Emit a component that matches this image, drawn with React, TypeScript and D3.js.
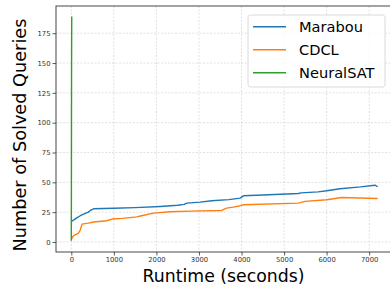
import { useEffect, useRef } from "react";
import * as d3 from "d3";

// runtime (s) and cumulative solved queries
const marabouTimes = [0, 60, 120, 211, 300, 400, 446, 523, 1000, 1500, 2090, 2500, 2650, 2715, 3028, 3300, 3700, 3967, 4045, 4500, 5336, 5400, 5800, 6003, 6315, 6800, 7136, 7200];
const marabouSolved = [17.2, 18.5, 20, 22, 23.5, 25, 26.4, 27.8, 28.3, 28.8, 29.8, 30.8, 31.5, 32.6, 33.4, 34.5, 35.5, 36.8, 38.7, 39.4, 40.6, 41.2, 42, 42.9, 44.6, 46.2, 47.6, 46.3];

const cdclTimes = [0, 55, 171, 210, 251, 400, 523, 837, 955, 1200, 1542, 1650, 1932, 2324, 2800, 3530, 3650, 3800, 3950, 4050, 5336, 5493, 6003, 6355, 7200];
const cdclSolved = [2.5, 5.3, 7.5, 10, 15, 15.8, 16.7, 17.8, 19.2, 19.8, 21, 22, 24.2, 25.3, 25.9, 26.4, 28.4, 29.2, 30.2, 31.2, 32.6, 34, 35.4, 37.3, 36.5];

const neuralsatTimes = [0, 2, 4, 6, 10];
const neuralsatSolved = [1, 40, 100, 150, 189];

const seriesNames = ["Marabou", "CDCL", "NeuralSAT"];
const seriesColors = ["#1f77b4", "#ff7f0e", "#2ca02c"];

const xTicks = [0, 1000, 2000, 3000, 4000, 5000, 6000, 7000];
const yTicks = [0, 25, 50, 75, 100, 125, 150, 175];

const width = 390;
const height = 289;

function App() {
  const ref = useRef<SVGSVGElement>(null);

  useEffect(() => {
    const el = d3.select(ref.current);
    el.selectAll("*").remove();

    const plot = { left: 56, top: 6, right: 393, bottom: 252 };
    const font = "DejaVu Sans, sans-serif";

    const x = d3.scaleLinear().domain([-360, 7560]).range([plot.left, plot.right]);
    const y = d3.scaleLinear().domain([-8.4, 197.8]).range([plot.bottom, plot.top]);

    // grid
    const grid = el.append("g");
    for (const t of xTicks) {
      grid.append("line")
        .attr("x1", x(t)).attr("x2", x(t))
        .attr("y1", plot.top).attr("y2", plot.bottom)
        .attr("stroke", "#b0b0b0").attr("stroke-opacity", 0.55)
        .attr("stroke-width", 0.7).attr("stroke-dasharray", "2,1.5");
    }
    for (const v of yTicks) {
      grid.append("line")
        .attr("x1", plot.left).attr("x2", plot.right)
        .attr("y1", y(v)).attr("y2", y(v))
        .attr("stroke", "#b0b0b0").attr("stroke-opacity", 0.55)
        .attr("stroke-width", 0.7).attr("stroke-dasharray", "2,1.5");
    }

    // data lines
    const series = [
      { times: marabouTimes, solved: marabouSolved },
      { times: cdclTimes, solved: cdclSolved },
      { times: neuralsatTimes, solved: neuralsatSolved },
    ];
    const line = d3.line<[number, number]>()
      .x((d) => x(d[0]))
      .y((d) => y(d[1]));
    series.forEach((s, i) => {
      const pts = s.times.map((t, k) => [t, s.solved[k]] as [number, number]);
      el.append("path")
        .attr("d", line(pts))
        .attr("fill", "none")
        .attr("stroke", seriesColors[i])
        .attr("stroke-width", 1.4)
        .attr("stroke-linejoin", "round");
    });

    // spines
    el.append("rect")
      .attr("x", plot.left).attr("y", plot.top)
      .attr("width", plot.right - plot.left).attr("height", plot.bottom - plot.top)
      .attr("fill", "none").attr("stroke", "#333").attr("stroke-width", 0.9);

    // axes
    const xAxis = el.append("g")
      .attr("transform", `translate(0, ${plot.bottom})`)
      .call(d3.axisBottom(x).tickValues(xTicks).tickSize(3.5).tickPadding(2).tickFormat(d3.format("d")));
    const yAxis = el.append("g")
      .attr("transform", `translate(${plot.left}, 0)`)
      .call(d3.axisLeft(y).tickValues(yTicks).tickSize(3.5).tickPadding(2).tickFormat(d3.format("d")));
    for (const ax of [xAxis, yAxis]) {
      ax.select(".domain").remove();
      ax.selectAll("line").attr("stroke", "#333").attr("stroke-width", 0.8);
      ax.selectAll("text").attr("font-family", font).attr("font-size", 6.8).attr("fill", "#333");
    }

    // axis labels
    el.append("text")
      .attr("x", (plot.left + 390) / 2 + 0.5)
      .attr("y", 282)
      .attr("text-anchor", "middle")
      .attr("font-family", font)
      .attr("font-size", 17.3)
      .text("Runtime (seconds)");
    el.append("text")
      .attr("transform", `translate(25.5, ${(plot.top + plot.bottom) / 2 + 6}) rotate(-90)`)
      .attr("text-anchor", "middle")
      .attr("font-family", font)
      .attr("font-size", 17.7)
      .text("Number of Solved Queries");

    // legend
    const legend = el.append("g").attr("transform", "translate(248, 15)");
    legend.append("rect")
      .attr("width", 137).attr("height", 72).attr("rx", 2.5)
      .attr("fill", "white").attr("fill-opacity", 0.8)
      .attr("stroke", "#d0d0d0").attr("stroke-width", 0.8);
    seriesNames.forEach((name, i) => {
      const ly = 11.7 + i * 23;
      legend.append("line")
        .attr("x1", 5).attr("x2", 38).attr("y1", ly).attr("y2", ly)
        .attr("stroke", seriesColors[i]).attr("stroke-width", 1.4);
      legend.append("text")
        .attr("x", 51).attr("y", ly + 5.3)
        .attr("font-family", font).attr("font-size", 14.6)
        .text(name);
    });
  }, []);

  return (
    <svg
      ref={ref}
      width={width}
      height={height}
      style={{ position: "absolute", left: 0, top: 0, background: "white" }}
    />
  );
}

export default App;
